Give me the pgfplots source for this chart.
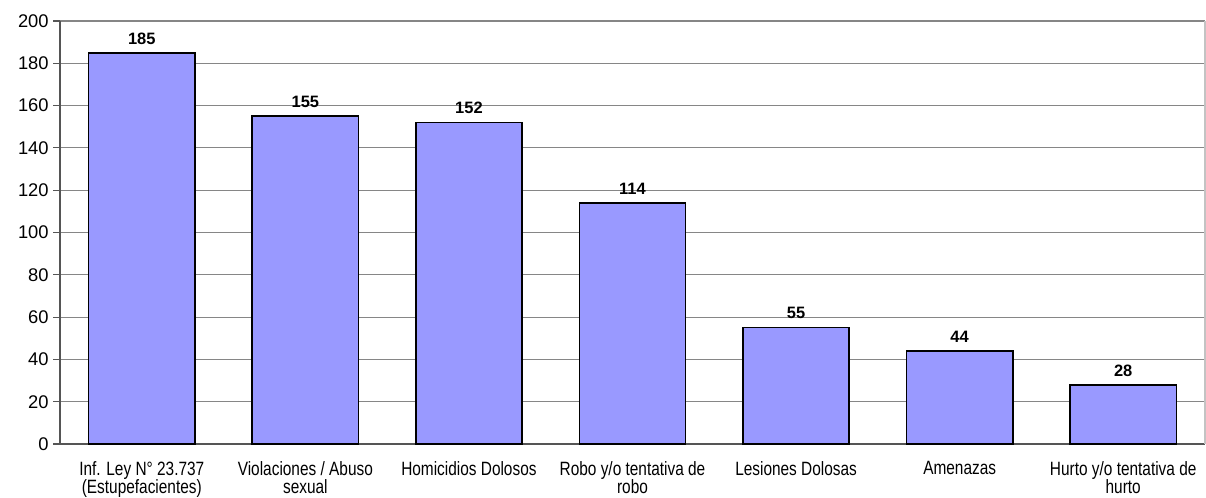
\documentclass[border=0pt]{standalone}
\usepackage{fontspec}
\setmainfont{Liberation Sans}
\usepackage{pgfplots}
\pgfplotsset{compat=1.18}
\usetikzlibrary{calc}
\definecolor{barfill}{HTML}{9999FF}
\definecolor{gridgray}{HTML}{868686}
\definecolor{axisgray}{HTML}{555555}

\begin{document}
\begin{tikzpicture}
\begin{axis}[
    name=ax,
    scale only axis,
    width=858.75bp, height=317.25bp,
    ybar, bar width=0.65,
    xmin=-0.5, xmax=6.5,
    ymin=0, ymax=200,
    ytick={0,20,...,200},
    ymajorgrids, grid style={gridgray, line width=0.8pt},
    axis line style={axisgray, line width=0.9pt},
    axis x line*=bottom, axis y line*=left,
    xtick={0,...,6},
    xticklabels={{Inf. Ley N° 23.737\\(Estupefacientes)},{Violaciones / Abuso\\sexual},{Homicidios Dolosos},{Robo y/o tentativa de\\robo},{Lesiones Dolosas},{Amenazas},{Hurto y/o tentativa de\\hurto}},
    xticklabel style={align=center, font=\fontsize{11.6}{11}\selectfont, transform shape, yscale=1.25, yshift=-3bp},
    yticklabel style={font=\fontsize{13.8}{15}\selectfont},
    major x tick style={draw=none},
    extra x ticks={-0.5,0.5,...,6.5},
    extra x tick labels={},
    extra x tick style={grid=none, tick style={draw=axisgray, line width=0.9pt}, major tick length=5bp, tick align=outside},
    y tick style={axisgray, line width=0.9pt},
    major tick length=5bp, tick align=outside,
    /pgf/number format/assume math mode=true,
    nodes near coords,
    every node near coord/.append style={font=\fontsize{12.4}{14}\selectfont\bfseries, yshift=2.5bp},
    clip=false,
]
\addplot[fill=barfill, draw=black, line width=1.2pt] coordinates {(0,185) (1,155) (2,152) (3,114) (4,55) (5,44) (6,28)};
\draw[gridgray!50, line width=0.8pt] (axis cs:6.5,0) -- (axis cs:6.5,200);
\end{axis}
\pgfresetboundingbox
\path[use as bounding box] ($(ax.south west)+(-45bp,-40.5bp)$) rectangle ($(ax.north east)+(0.75bp,15.75bp)$);
\end{tikzpicture}
\end{document}
